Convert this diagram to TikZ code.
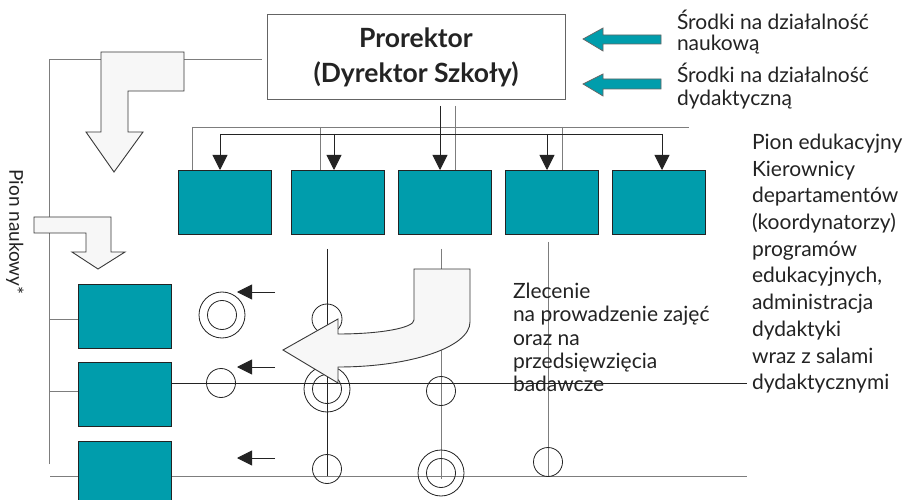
\documentclass[tikz,border=0pt]{standalone}
\usepackage{fontspec}
\setmainfont{Lato}
\usetikzlibrary{arrows.meta,calc}

\definecolor{boxteal}{RGB}{0,157,172}
\definecolor{bigarrowfill}{RGB}{247,247,247}
\definecolor{linegray}{RGB}{125,125,125}
\definecolor{inkdark}{RGB}{35,35,35}

\tikzset{
  tealbox/.style={draw=inkdark, line width=0.9pt, fill=boxteal, inner sep=0pt, outer sep=0pt,
                  minimum width=93pt, minimum height=64pt},
  headbox/.style={draw=linegray!80!black, line width=0.9pt, fill=white, inner sep=0pt, outer sep=0pt,
                  minimum width=298pt, minimum height=85pt, align=center, text=inkdark,
                  font=\fontsize{26.5}{35}\selectfont\bfseries},
  gline/.style={draw=linegray, line width=0.9pt},
  kline/.style={draw=inkdark, line width=0.9pt},
  tiparrow/.style={draw=inkdark, line width=0.9pt, -{Triangle[length=15pt,width=15pt]}},
  ring/.style={draw=inkdark, line width=0.8pt},
  fatarrow/.style={draw=inkdark!90, line width=0.9pt, fill=bigarrowfill},
  fundarrow/.style={draw=inkdark!70, line width=0.7pt, fill=boxteal},
  lbl/.style={inner sep=0pt, outer sep=0pt, align=left, text=inkdark, anchor=north west},
}

\begin{document}
\begin{tikzpicture}[x=1pt,y=-1pt]
\clip (0,0) rectangle (906,500);
\fill[white] (0,0) rectangle (906,500);

% ---------- head unit ----------
\node[headbox] (head) at (416,57) {Prorektor\\(Dyrektor Szkoły)};

% ---------- education units (top row) ----------
\node[tealbox] (e1) at (224.5,202) {};
\node[tealbox] (e2) at (338,202) {};
\node[tealbox] (e3) at (444.5,202) {};
\node[tealbox] (e4) at (551.5,202) {};
\node[tealbox] (e5) at (658.5,202) {};

% distribution buses
\coordinate (busA-w) at (192,127);
\coordinate (busA-e) at (689,127);
\coordinate (busB-w) at (220,134);
\coordinate (busB-e) at (662,134);

\draw[gline] (busA-w) -- (busA-e);
\draw[gline] (busA-w) -- (e1.north -| busA-w);
\draw[gline] (320,127) -- (e2.north -| 320,0);
\draw[gline] (562,127) -- (e4.north -| 562,0);
\draw[gline] (455,106) -- (e3.north -| 455,0);

\draw[kline] (busB-w) -- (busB-e);
\draw[tiparrow] (busB-w) -- (e1.north -| busB-w);
\draw[tiparrow] (334,134) -- (e2.north -| 334,0);
\draw[tiparrow] (440,106) -- (e3.north -| 440,0);
\draw[tiparrow] (547,134) -- (e4.north -| 547,0);
\draw[tiparrow] (busB-e) -- (e5.north -| busB-e);

% ---------- research units (left column) ----------
\node[tealbox] (r1) at (124.5,316) {};
\node[tealbox] (r2) at (124.5,394) {};

\coordinate (spine-top) at (49,59);
\coordinate (spine-bot) at (49,464);
\draw[gline] (spine-bot) -- (spine-top) -- (262,59);
\draw[gline] (49,319) -- (r1.west |- 0,319);
\draw[gline] (49,391) -- (r2.west |- 0,391);

% bottom grid line runs behind the third unit
\coordinate (grid-bot-w) at (50,476);
\coordinate (grid-bot-e) at (747,476);
\draw[gline] (grid-bot-w) -- (grid-bot-e);
\node[tealbox] (r3) at (124.5,473) {};

% grid verticals
\draw[kline] (327,249) -- (327,476);
\draw[gline] (441,249) -- (441,479);
\draw[gline] (548,242) -- (548,476);

% assignment markers
\draw[ring] (222,315) circle[radius=14.5] (222,315) circle[radius=23];
\draw[ring] (221,383) circle[radius=14.5];
\draw[ring] (327,319) circle[radius=15];
\draw[ring] (327,389) circle[radius=14.5] (327,389) circle[radius=23];
\draw[ring] (441,391) circle[radius=14.5];
\draw[ring] (327,469) circle[radius=14.5];
\draw[ring] (441,473) circle[radius=14.5] (441,473) circle[radius=23];
\draw[ring] (548,462) circle[radius=14.5];

% small arrows pointing at the research rows
\draw[tiparrow] (275,292) -- (237,292);
\draw[tiparrow] (275,367) -- (237,367);
\draw[tiparrow] (275,458) -- (237,458);

% ---------- big block arrows ----------
\draw[fatarrow] (101,52) -- (184,52) -- (184,91) -- (128,91) -- (128,132) -- (143,132)
  -- (114,172) -- (86,132) -- (101,132) -- cycle;
\draw[fatarrow] (34,217) -- (111,217) -- (111,252) -- (125,252) -- (98,269) -- (72,252)
  -- (86,252) -- (86,233) -- (34,233) -- cycle;
\draw[fatarrow] (414,269) -- (470,269) -- (470,322)
  .. controls (470,347) and (411,367) .. (338,367)
  -- (338,383) -- (283,350) -- (338,319) -- (338,334)
  .. controls (380,334) and (414,328) .. (414,320) -- cycle;

% funding arrows
\draw[fundarrow] (583,39) -- (603,28) -- (603,35) -- (661,35) -- (661,44) -- (603,44) -- (603,51) -- cycle;
\draw[fundarrow] (583,84) -- (603,74) -- (603,79) -- (661,79) -- (661,89) -- (603,89) -- (603,96) -- cycle;

% ---------- labels ----------
\node[lbl, font=\fontsize{21}{21.5}\selectfont] (fund1) at (677,10) {Środki na działalność\\naukową};
\node[lbl, font=\fontsize{21}{23}\selectfont] (fund2) at (677,63) {Środki na działalność\\dydaktyczną};
\node[lbl, font=\fontsize{21}{26.7}\selectfont] (edu) at (752,134)
  {Pion edukacyjny\\Kierownicy\\departamentów\\(koordynatorzy)\\programów\\edukacyjnych,\\administracja\\dydaktyki\\wraz z salami\\dydaktycznymi};
\node[lbl, font=\fontsize{21}{23.3}\selectfont] (task) at (513,283)
  {Zlecenie\\na prowadzenie zajęć\\oraz na\\przedsięwzięcia\\badawcze};
\node[inner sep=0pt, rotate=-90, text=inkdark, font=\fontsize{19}{22}\selectfont] (research) at (15,232) {Pion naukowy*};

% middle grid line from the second unit, crossing the label text
\coordinate (grid-mid-e) at (747,383);
\draw[kline] (r2.east |- 0,383) -- (grid-mid-e);
\end{tikzpicture}
\end{document}
